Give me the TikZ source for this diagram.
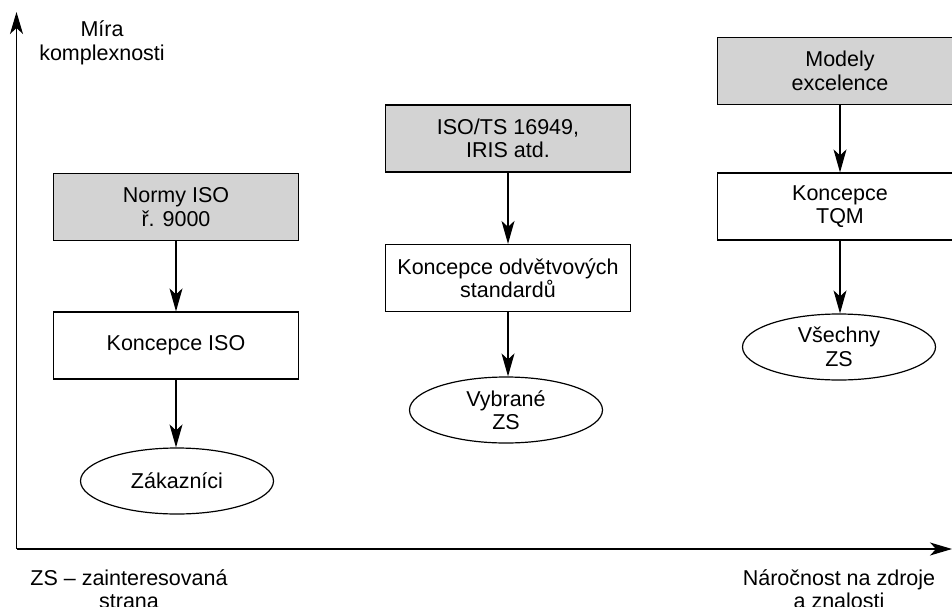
\documentclass[tikz,border=0pt]{standalone}
\usepackage{fontspec}
\setmainfont{Liberation Sans}
\usetikzlibrary{arrows.meta,shapes.geometric}
\definecolor{boxgray}{RGB}{211,211,211}
\begin{document}
\begin{tikzpicture}[x=1pt,y=-1pt,
  every node/.style={font=\fontsize{21.5}{23.5}\selectfont, align=center},
  lw/.style={line width=1.2pt},
  greybox/.style={lw, draw=black, fill=boxgray, rectangle, minimum width=245pt, minimum height=67pt, inner sep=0pt},
  whitebox/.style={lw, draw=black, fill=white, rectangle, minimum width=245pt, minimum height=67pt, inner sep=0pt},
  oval/.style={lw, draw=black, fill=white, ellipse, minimum width=193pt, minimum height=66pt, inner sep=0pt},
  flow/.style={lw, -{Stealth[length=23pt,width=13pt,inset=6pt]}},
  axisline/.style={lw, -{Stealth[length=22pt,width=13pt,inset=6pt]}}
]
\useasboundingbox (0,0) rectangle (952,607);
\clip (0,0) rectangle (952,607);
\fill[white] (0,0) rectangle (952,607);

% axes
\coordinate (O) at (16.5,549);
\coordinate (ytip) at (16.5,12);
\coordinate (xtip) at (952,549);
\draw[axisline] (O) -- (ytip);
\draw[axisline] (O) -- (xtip);

% axis labels
\node (ylab) at (102,43) {Míra\\komplexnosti};
\node (zslab) at (129,589) {ZS – zainteresovaná\\strana};
\node (xlab) at (839,589) {Náročnost na zdroje\\a znalosti};

% left column
\node[greybox] (n1) at (176,207) {Normy ISO\\ř. 9000};
\node[whitebox] (k1) at (176,345.5) {Koncepce ISO};
\node[oval] (z1) at (177,481) {Zákazníci};

% middle column
\node[greybox] (n2) at (508,138.5) {ISO/TS 16949,\\IRIS atd.};
\node[whitebox] (k2) at (508,278) {Koncepce odvětvových\\standardů};
\node[oval] (z2) at (506,410) {Vybrané\\ZS};

% right column
\node[greybox] (n3) at (840,71) {Modely\\excelence};
\node[whitebox] (k3) at (840,206.5) {Koncepce\\TQM};
\node[oval] (z3) at (839,347) {Všechny\\ZS};

% connectors
\draw[flow] (n1.south) -- (k1.north);
\draw[flow] (k1.south) -- (k1.south |- z1.north);
\draw[flow] (n2.south) -- (k2.north);
\draw[flow] (k2.south) -- (k2.south |- z2.north);
\draw[flow] (n3.south) -- (k3.north);
\draw[flow] (k3.south) -- (k3.south |- z3.north);
\end{tikzpicture}
\end{document}
